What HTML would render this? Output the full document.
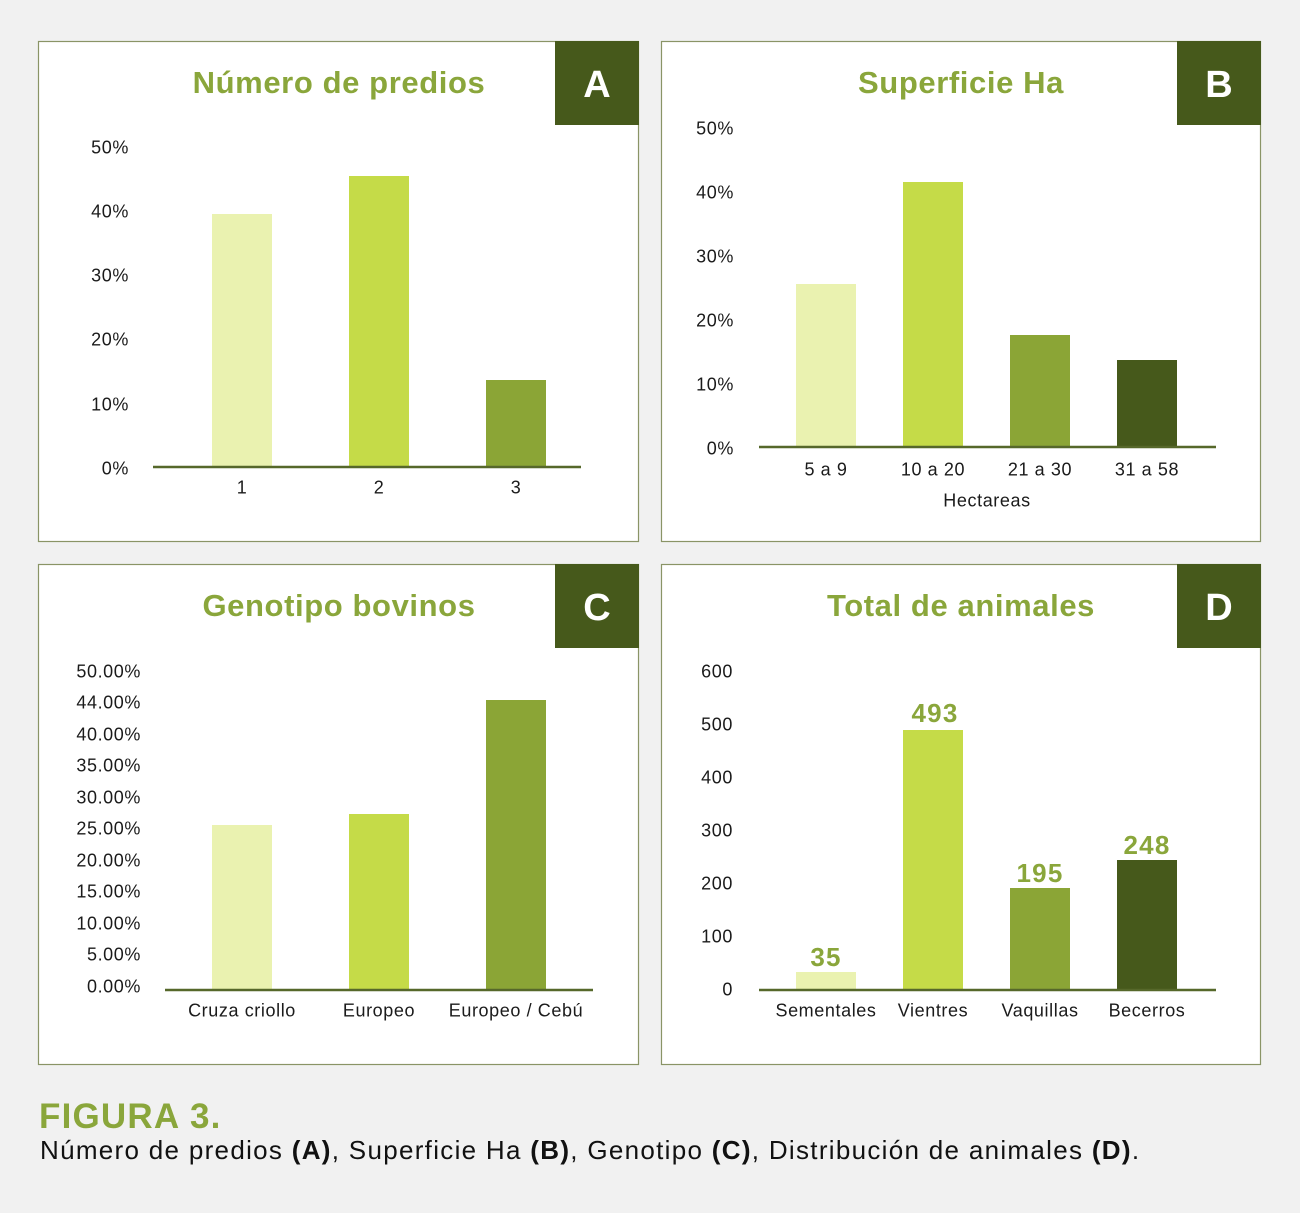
<!DOCTYPE html>
<html><head><meta charset="utf-8"><style>
html,body{margin:0;padding:0;background:#f1f1f1;}
svg{display:block;}
text{font-family:"Liberation Sans",sans-serif;}
.t{font-size:18px;fill:#1b1b1b;letter-spacing:0.6px;}
.ti{font-size:31px;font-weight:bold;fill:#8aa63b;letter-spacing:0.6px;}
.lb{font-size:38px;font-weight:bold;fill:#ffffff;}
.v{font-size:26px;font-weight:bold;fill:#8aa63b;letter-spacing:1.2px;}
</style></head><body>
<svg width="1300" height="1213" viewBox="0 0 1300 1213" xmlns="http://www.w3.org/2000/svg">
<rect width="1300" height="1213" fill="#f1f1f1"/>
<!-- panels -->
<g fill="#ffffff" stroke="#8a9466" stroke-width="1.2">
<rect x="38.5" y="41.5" width="600" height="500"/>
<rect x="661.5" y="41.5" width="599" height="500"/>
<rect x="38.5" y="564.5" width="600" height="500"/>
<rect x="661.5" y="564.5" width="599" height="500"/>
</g>
<g fill="#46591b">
<rect x="555" y="41" width="84" height="84"/>
<rect x="1177" y="41" width="84" height="84"/>
<rect x="555" y="564" width="84" height="84"/>
<rect x="1177" y="564" width="84" height="84"/>
</g>
<g class="lb" text-anchor="middle">
<text x="597" y="97" class="lb">A</text>
<text x="1219" y="97" class="lb">B</text>
<text x="597" y="620" class="lb">C</text>
<text x="1219" y="620" class="lb">D</text>
</g>
<!-- titles -->
<text class="ti" x="339" y="93" text-anchor="middle">Número de predios</text>
<text class="ti" x="961" y="93" text-anchor="middle">Superficie Ha</text>
<text class="ti" x="339" y="616" text-anchor="middle">Genotipo bovinos</text>
<text class="ti" x="961" y="616" text-anchor="middle">Total de animales</text>

<!-- Panel A -->
<g class="t" text-anchor="end">
<text x="129" y="153.5">50%</text>
<text x="129" y="217.5">40%</text>
<text x="129" y="281.5">30%</text>
<text x="129" y="345.5">20%</text>
<text x="129" y="410.5">10%</text>
<text x="129" y="474.5">0%</text>
</g>
<rect x="212" y="214" width="60" height="253" fill="#eaf2b0"/>
<rect x="349" y="176" width="60" height="291" fill="#c5db48"/>
<rect x="486" y="380" width="60" height="87" fill="#8ba536"/>
<line x1="153" y1="467" x2="581" y2="467" stroke="#56682a" stroke-width="2.5"/>
<g class="t" text-anchor="middle">
<text x="242" y="493.5">1</text>
<text x="379" y="493.5">2</text>
<text x="516" y="493.5">3</text>
</g>

<!-- Panel B -->
<g class="t" text-anchor="end">
<text x="734" y="134.5">50%</text>
<text x="734" y="198.5">40%</text>
<text x="734" y="262.5">30%</text>
<text x="734" y="326.5">20%</text>
<text x="734" y="390.5">10%</text>
<text x="734" y="454.5">0%</text>
</g>
<rect x="796" y="284" width="60" height="163" fill="#eaf2b0"/>
<rect x="903" y="182" width="60" height="265" fill="#c5db48"/>
<rect x="1010" y="335" width="60" height="112" fill="#8ba536"/>
<rect x="1117" y="360" width="60" height="87" fill="#46591b"/>
<line x1="759" y1="447" x2="1216" y2="447" stroke="#56682a" stroke-width="2.5"/>
<g class="t" text-anchor="middle">
<text x="826" y="475.5">5 a 9</text>
<text x="933" y="475.5">10 a 20</text>
<text x="1040" y="475.5">21 a 30</text>
<text x="1147" y="475.5">31 a 58</text>
<text x="987" y="506.5">Hectareas</text>
</g>

<!-- Panel C -->
<g class="t" text-anchor="end">
<text x="141" y="677.5">50.00%</text>
<text x="141" y="708.5">44.00%</text>
<text x="141" y="740.5">40.00%</text>
<text x="141" y="771.5">35.00%</text>
<text x="141" y="803.5">30.00%</text>
<text x="141" y="834.5">25.00%</text>
<text x="141" y="866.5">20.00%</text>
<text x="141" y="897.5">15.00%</text>
<text x="141" y="929.5">10.00%</text>
<text x="141" y="960.5">5.00%</text>
<text x="141" y="992.5">0.00%</text>
</g>
<rect x="212" y="825" width="60" height="165" fill="#eaf2b0"/>
<rect x="349" y="814" width="60" height="176" fill="#c5db48"/>
<rect x="486" y="700" width="60" height="290" fill="#8ba536"/>
<line x1="165" y1="990" x2="593" y2="990" stroke="#56682a" stroke-width="2.5"/>
<g class="t" text-anchor="middle">
<text x="242" y="1016.5">Cruza criollo</text>
<text x="379" y="1016.5">Europeo</text>
<text x="516" y="1016.5">Europeo / Cebú</text>
</g>

<!-- Panel D -->
<g class="t" text-anchor="end">
<text x="733" y="677.5">600</text>
<text x="733" y="730.5">500</text>
<text x="733" y="783.5">400</text>
<text x="733" y="836.5">300</text>
<text x="733" y="889.5">200</text>
<text x="733" y="942.5">100</text>
<text x="733" y="995.5">0</text>
</g>
<rect x="796" y="972" width="60" height="18" fill="#eaf2b0"/>
<rect x="903" y="730" width="60" height="260" fill="#c5db48"/>
<rect x="1010" y="888" width="60" height="102" fill="#8ba536"/>
<rect x="1117" y="860" width="60" height="130" fill="#46591b"/>
<line x1="759" y1="990" x2="1216" y2="990" stroke="#56682a" stroke-width="2.5"/>
<g class="v" text-anchor="middle">
<text x="826" y="966">35</text>
<text x="935" y="722">493</text>
<text x="1040" y="882">195</text>
<text x="1147" y="854">248</text>
</g>
<g class="t" text-anchor="middle">
<text x="826" y="1016.5">Sementales</text>
<text x="933" y="1016.5">Vientres</text>
<text x="1040" y="1016.5">Vaquillas</text>
<text x="1147" y="1016.5">Becerros</text>
</g>

<!-- caption -->
<text x="39" y="1128" style="font-size:35px;font-weight:bold;fill:#8aa63b;letter-spacing:1.2px;">FIGURA 3.</text>
<text x="40" y="1159" style="font-size:26px;fill:#111;letter-spacing:1.3px;">Número de predios <tspan font-weight="bold">(A)</tspan>, Superficie Ha <tspan font-weight="bold">(B)</tspan>, Genotipo <tspan font-weight="bold">(C)</tspan>, Distribución de animales <tspan font-weight="bold">(D)</tspan>.</text>
</svg>
</body></html>
